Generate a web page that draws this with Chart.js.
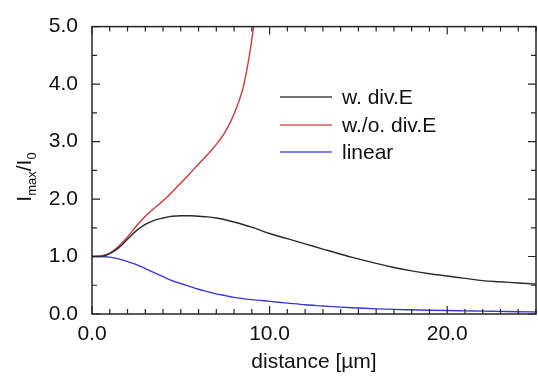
<!DOCTYPE html>
<html>
<head>
<meta charset="utf-8">
<script src="https://cdn.jsdelivr.net/npm/chart.js@4/dist/chart.umd.min.js"></script>
<style>
  html, body { margin: 0; padding: 0; background: #fff; }
  #wrap { width: 538px; height: 377px; }
</style>
</head>
<body>
<div id="wrap"><canvas id="c" width="538" height="377"></canvas></div>
<script>
// distance in um
var xWith = [0, 0.5, 1, 1.5, 2, 2.5, 3, 3.5, 4, 4.5, 5, 5.5, 6, 6.5, 7, 7.5, 8, 9, 10, 11, 12, 13, 14, 15, 16, 17, 18, 19, 20, 21, 22, 23, 24, 25];
var yWith = [1.00, 1.00, 1.05, 1.15, 1.30, 1.45, 1.56, 1.63, 1.67, 1.70, 1.71, 1.71, 1.70, 1.69, 1.67, 1.64, 1.60, 1.51, 1.40, 1.31, 1.22, 1.13, 1.04, 0.96, 0.88, 0.81, 0.75, 0.70, 0.66, 0.62, 0.58, 0.56, 0.54, 0.52];

var xWithout = [0, 0.5, 1, 1.5, 2, 2.5, 3, 3.5, 4, 4.5, 5, 5.5, 6, 6.5, 7, 7.5, 8, 8.5, 8.75, 9, 9.1];
var yWithout = [1.00, 1.01, 1.06, 1.18, 1.34, 1.53, 1.70, 1.84, 1.97, 2.12, 2.28, 2.44, 2.61, 2.77, 2.95, 3.17, 3.48, 3.93, 4.30, 4.78, 5.00];

var xLinear = [0, 0.5, 1, 1.5, 2, 2.5, 3, 3.5, 4, 4.5, 5, 5.5, 6, 6.5, 7, 7.5, 8, 9, 10, 11, 12, 13, 14, 15, 16, 17, 18, 19, 20, 21, 22, 23, 24, 25];
var yLinear = [1.00, 1.00, 0.99, 0.96, 0.91, 0.86, 0.79, 0.72, 0.65, 0.58, 0.53, 0.48, 0.43, 0.39, 0.35, 0.32, 0.29, 0.25, 0.22, 0.19, 0.16, 0.14, 0.12, 0.105, 0.09, 0.08, 0.073, 0.066, 0.06, 0.055, 0.05, 0.045, 0.04, 0.036];

var seriesNames = ["w. div.E", "w./o. div.E", "linear"];
var xTicks = [0, 10, 20];
var yTicks = [0, 1, 2, 3, 4, 5];

function pts(xs, ys) {
    return xs.map(function (x, i) { return { x: x, y: ys[i] }; });
}

var FONT = "'Liberation Sans', Arial, sans-serif";
var INK = "#262626";

// inward tick marks, frame, legend and the y title with subscripts
var decor = {
    id: "decor",
    afterDraw: function (chart) {
        var ctx = chart.ctx, a = chart.chartArea;
        var sx = chart.scales.x, sy = chart.scales.y;
        ctx.save();
        ctx.strokeStyle = INK;
        ctx.lineWidth = 1.5;
        ctx.strokeRect(a.left, a.top, a.right - a.left, a.bottom - a.top);

        ctx.lineWidth = 1.2;
        ctx.beginPath();
        for (var v = 0; v <= 25; v++) {
            var px = sx.getPixelForValue(v);
            var len = (v % 10 === 0) ? 8 : 5;
            ctx.moveTo(px, a.bottom); ctx.lineTo(px, a.bottom - len);
            ctx.moveTo(px, a.top); ctx.lineTo(px, a.top + len);
        }
        for (var k = 0; k <= 10; k++) {
            var py = sy.getPixelForValue(k * 0.5);
            var l2 = (k % 2 === 0) ? 8 : 5;
            ctx.moveTo(a.left, py); ctx.lineTo(a.left + l2, py);
            ctx.moveTo(a.right, py); ctx.lineTo(a.right - l2, py);
        }
        ctx.stroke();

        // legend
        var rows = [97, 125, 152];
        chart.data.datasets.forEach(function (ds, i) {
            ctx.strokeStyle = ds.legendColor;
            ctx.lineWidth = 1.3;
            ctx.beginPath();
            ctx.moveTo(280, rows[i]); ctx.lineTo(332, rows[i]);
            ctx.stroke();
            ctx.fillStyle = "#111";
            ctx.font = "21px " + FONT;
            ctx.textBaseline = "middle";
            ctx.textAlign = "left";
            ctx.fillText(ds.label, 342, rows[i] + 1);
        });

        // y title I_max / I_0
        ctx.translate(31, 177);
        ctx.rotate(-Math.PI / 2);
        ctx.fillStyle = "#111";
        ctx.textBaseline = "alphabetic";
        ctx.textAlign = "left";
        var parts = [["I", 21, 0], ["max", 13, 5], ["/I", 21, 0], ["0", 13, 5]];
        var total = 0;
        parts.forEach(function (p) { ctx.font = p[1] + "px " + FONT; total += ctx.measureText(p[0]).width; });
        var cx = -total / 2;
        parts.forEach(function (p) {
            ctx.font = p[1] + "px " + FONT;
            ctx.fillText(p[0], cx, p[2]);
            cx += ctx.measureText(p[0]).width;
        });
        ctx.restore();
    }
};

new Chart(document.getElementById("c").getContext("2d"), {
    type: "scatter",
    data: {
        datasets: [
            { label: seriesNames[0], data: pts(xWith, yWith), borderColor: "#2b2b2b", legendColor: "#444" },
            { label: seriesNames[1], data: pts(xWithout, yWithout), borderColor: "#cc3a3a", legendColor: "#d05c5c" },
            { label: seriesNames[2], data: pts(xLinear, yLinear), borderColor: "#3a3ad0", legendColor: "#5858d8" }
        ].map(function (d) {
            d.showLine = true;
            d.pointRadius = 0;
            d.borderWidth = 1.4;
            d.cubicInterpolationMode = "monotone";
            return d;
        })
    },
    options: {
        responsive: false,
        animation: false,
        layout: { padding: { top: 18, right: 2, left: 0, bottom: 0 } },
        plugins: { legend: { display: false }, tooltip: { enabled: false } },
        scales: {
            x: {
                type: "linear",
                min: 0, max: 25,
                afterFit: function (s) { s.height = 63; },
                afterBuildTicks: function (s) { s.ticks = xTicks.map(function (v) { return { value: v }; }); },
                grid: { display: false, drawTicks: false },
                border: { display: false },
                ticks: {
                    padding: 8,
                    color: "#111",
                    font: { family: FONT, size: 21 },
                    maxRotation: 0,
                    callback: function (v) { return v.toFixed(1); }
                },
                title: {
                    display: true,
                    text: "distance [µm]",
                    color: "#111",
                    font: { family: FONT, size: 21 },
                    padding: { top: 0, bottom: 2 }
                }
            },
            y: {
                min: 0, max: 5,
                afterFit: function (s) { s.width = 92; },
                afterBuildTicks: function (s) { s.ticks = yTicks.map(function (v) { return { value: v }; }); },
                grid: { display: false, drawTicks: false },
                border: { display: false },
                ticks: {
                    padding: 14,
                    color: "#111",
                    font: { family: FONT, size: 21 },
                    callback: function (v) { return v.toFixed(1); }
                }
            }
        }
    },
    plugins: [decor]
});
</script>
</body>
</html>
